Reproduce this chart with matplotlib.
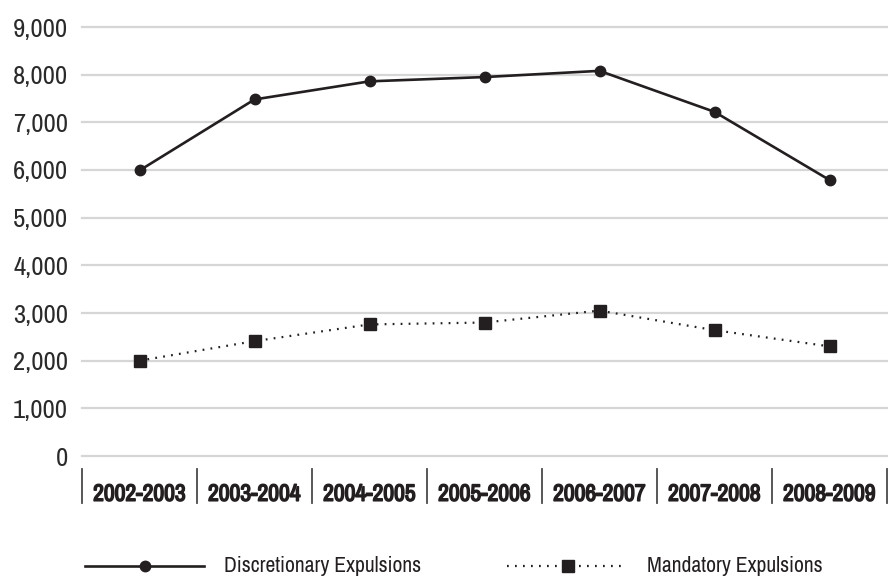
import matplotlib
matplotlib.use("Agg")
import matplotlib.pyplot as plt
from matplotlib.lines import Line2D
from matplotlib import font_manager as fm
import matplotlib.patheffects as pe

categories = ["2002-2003", "2003-2004", "2004-2005", "2005-2006",
              "2006-2007", "2007-2008", "2008-2009"]
discretionary = [5990, 7480, 7860, 7950, 8080, 7220, 5790]
mandatory = [2000, 2410, 2760, 2800, 3050, 2640, 2300]
yticks = [0, 1000, 2000, 3000, 4000, 5000, 6000, 7000, 8000, 9000]
series_names = ["Discretionary Expulsions", "Mandatory Expulsions"]

# pick a narrow font if one exists, else a fairly narrow sans
family = None
stretch = 'normal'
for f in fm.fontManager.ttflist:
    n = f.name.lower()
    if ('narrow' in n or 'condensed' in n) and 'mono' not in n and 'serif' not in n:
        family = f.name
        break
if family is None:
    family = 'Liberation Sans'
has_bold = any(f.name == family and (f.weight in ('bold', 'heavy', 'black') or
               (isinstance(f.weight, int) and f.weight >= 600))
               for f in fm.fontManager.ttflist)
plt.rcParams['font.family'] = [family, 'DejaVu Sans']

W, H = 888, 579
fig = plt.figure(figsize=(W / 100, H / 100), dpi=100)
renderer = fig.canvas.get_renderer()


def fit_size(text, target_px, weight='normal', base=20.0):
    fp = fm.FontProperties(family=[family, 'DejaVu Sans'], weight=weight,
                           size=base)
    w, h, d = renderer.get_text_width_height_descent(text, fp, ismath=False)
    return base * target_px / w


ink = "#231f20"
ytick_size = fit_size("9,000", 55)
xtick_size = fit_size("2002-2003", 94 if has_bold else 93, weight='bold')
leg_size = fit_size(series_names[0], 198)

ax = fig.add_axes([82 / W, (H - 456) / H, (887 - 82) / W, (456 - 27) / H])

x = list(range(len(categories)))

ax.plot(x, discretionary, color=ink, lw=1.9, marker='o', markersize=7.5,
        label=series_names[0], zorder=3)
ax.plot(x, mandatory, color=ink, lw=1.6, linestyle=(0, (0.8, 2.8)),
        marker='s', markersize=8, label=series_names[1], zorder=3)

ax.set_xlim(-0.5, len(categories) - 0.5)
ax.set_ylim(0, 9000)
ax.set_yticks(yticks)
ax.set_yticklabels([f"{v:,}" for v in yticks])
ax.set_xticks(x)
ax.set_xticklabels(categories, fontweight='bold')

for s in ax.spines.values():
    s.set_visible(False)

ax.tick_params(axis='y', length=0, pad=10, labelsize=ytick_size, labelcolor="#2a2a2a")
ax.tick_params(axis='x', length=0, pad=20, labelsize=xtick_size, labelcolor=ink)
for lab in ax.get_xticklabels():
    lab.set_verticalalignment('top')
    if not has_bold:
        lab.set_path_effects([pe.withStroke(linewidth=1.1, foreground=ink)])

ax.grid(axis='y', color='#d6d6d6', lw=1.6)
ax.set_axisbelow(True)
for gl in ax.get_ygridlines():
    gl.set_clip_on(False)

# category separators
ah = 456 - 27
y0 = (456 - 469) / ah
y1 = (456 - 503) / ah
trans = ax.get_xaxis_transform()
for i in range(len(categories) + 1):
    ax.plot([i - 0.5, i - 0.5], [y0, y1], color="#4a4a4a", lw=1.3,
            transform=trans, clip_on=False)

# legend (drawn in figure pixel space)
def fx(px):
    return px / W


def fy(py):
    return (H - py) / H


ly = 566
fig.add_artist(Line2D([fx(85), fx(204)], [fy(ly), fy(ly)], color=ink, lw=1.9,
                      transform=fig.transFigure))
fig.add_artist(Line2D([fx(145)], [fy(ly)], color=ink, marker='o', markersize=7.5,
                      transform=fig.transFigure))
fig.text(fx(224), fy(ly), series_names[0], fontsize=leg_size, color=ink,
         va='center', ha='left')

fig.add_artist(Line2D([fx(507), fx(623)], [fy(ly), fy(ly)], color=ink, lw=1.6,
                      linestyle=(0, (0.8, 2.8)), transform=fig.transFigure))
fig.add_artist(Line2D([fx(568)], [fy(ly)], color=ink, marker='s', markersize=8,
                      transform=fig.transFigure))
fig.text(fx(647), fy(ly), series_names[1], fontsize=leg_size, color=ink,
         va='center', ha='left')

fig.savefig("out.png", dpi=100, facecolor='white')
